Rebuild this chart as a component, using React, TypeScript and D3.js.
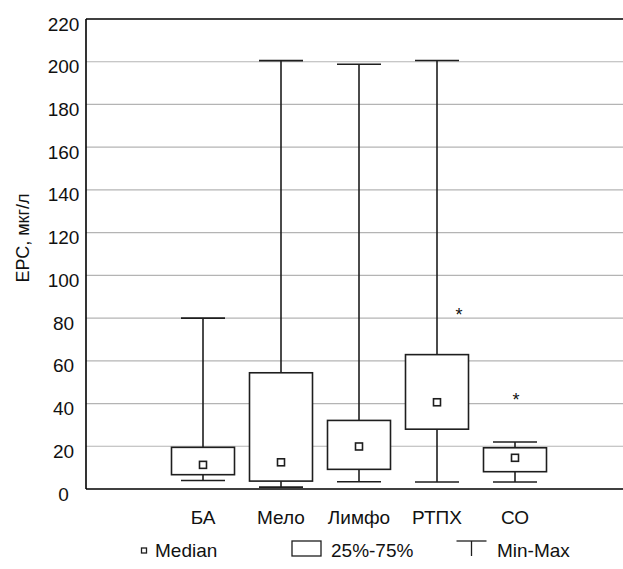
import React from "react";
import * as d3 from "d3";

// Group labels and five-number summaries (ЕРС, мкг/л)
const categories = ["БА", "Мело", "Лимфо", "РТПХ", "СО"];
const minValues = [4.0, 0.9, 3.4, 3.3, 3.3];
const q1Values = [6.7, 3.7, 9.2, 28.0, 8.1];
const medianValues = [11.3, 12.5, 19.9, 40.6, 14.6];
const q3Values = [19.5, 54.4, 32.1, 62.9, 19.3];
const maxValues = [80.0, 200.5, 198.8, 200.6, 22.0];

// Outliers drawn as asterisks
const outlierCategories = ["РТПХ", "СО"];
const outlierValues = [83.6, 43.6];

const yTicks = [0, 20, 40, 60, 80, 100, 120, 140, 160, 180, 200, 220];
const yLabel = "ЕРС, мкг/л";
const legendLabels = ["Median", "25%-75%", "Min-Max"];

const W = 623;
const H = 569;
const FONT = "'Liberation Sans', Arial, sans-serif";

export default function App() {
  const plotLeft = 86;
  const plotRight = W;
  const plotTop = 19;
  const plotBottom = 489;

  const y = d3.scaleLinear().domain([0, 220]).range([plotBottom, plotTop]);
  const x = d3.scalePoint<string>().domain(categories).range([203, 515]);

  const boxHalf = 31.5;
  const capHalf = 22;
  const med = 3.5;
  const stroke = "#1e1e1e";
  const outlierShift = [22, 1];
  const fs = 19;

  return (
    <svg
      width={W}
      height={H}
      style={{ position: "absolute", left: 0, top: 0, background: "#fff" }}
      fontFamily={FONT}
    >
      {/* horizontal grid */}
      {yTicks
        .filter((t) => t > 0 && t < 220)
        .map((t) => (
          <line
            key={"g" + t}
            x1={plotLeft}
            x2={plotRight}
            y1={y(t)}
            y2={y(t)}
            stroke="#b4b4b4"
            strokeWidth={1.2}
          />
        ))}

      {/* frame: top, left, bottom */}
      <line x1={plotLeft} x2={plotRight} y1={plotTop} y2={plotTop} stroke="#000" strokeWidth={1.6} />
      <line x1={plotLeft} x2={plotRight} y1={plotBottom} y2={plotBottom} stroke="#000" strokeWidth={1.6} />
      <line x1={plotLeft} x2={plotLeft} y1={plotTop} y2={plotBottom} stroke="#000" strokeWidth={1.6} />

      {/* y tick labels */}
      {yTicks.map((t) => (
        <text key={"t" + t} x={63.5} y={y(t) + 11.5} textAnchor="middle" fontSize={fs} fill="#111">
          {t}
        </text>
      ))}

      <text
        transform={`translate(29, 238) rotate(-90)`}
        textAnchor="middle"
        fontSize={18}
        fill="#111"
      >
        {yLabel}
      </text>

      {/* boxes */}
      {categories.map((c, i) => {
        const cx = x(c) as number;
        return (
          <g key={c} stroke={stroke} strokeWidth={1.6} fill="none">
            <line x1={cx} x2={cx} y1={y(maxValues[i])} y2={y(q3Values[i])} />
            <line x1={cx} x2={cx} y1={y(q1Values[i])} y2={y(minValues[i])} />
            <line x1={cx - capHalf} x2={cx + capHalf} y1={y(maxValues[i])} y2={y(maxValues[i])} />
            <line x1={cx - capHalf} x2={cx + capHalf} y1={y(minValues[i])} y2={y(minValues[i])} />
            <rect
              x={cx - boxHalf}
              y={y(q3Values[i])}
              width={boxHalf * 2}
              height={y(q1Values[i]) - y(q3Values[i])}
              fill="#fff"
            />
            <rect
              x={cx - med}
              y={y(medianValues[i]) - med}
              width={med * 2}
              height={med * 2}
              fill="#fff"
            />
          </g>
        );
      })}

      {/* outliers */}
      {outlierCategories.map((c, i) => (
        <text
          key={"o" + i}
          x={(x(c) as number) + outlierShift[i]}
          y={y(outlierValues[i]) + 10.5}
          textAnchor="middle"
          fontSize={18}
          fill="#111"
        >
          *
        </text>
      ))}

      {/* category labels */}
      {categories.map((c) => (
        <text key={"c" + c} x={x(c) as number} y={524} textAnchor="middle" fontSize={fs} fill="#111">
          {c}
        </text>
      ))}

      {/* legend */}
      <g stroke={stroke} strokeWidth={1.3} fill="#fff">
        <rect x={141.5} y={548} width={5} height={5} />
        <rect x={292} y={541} width={29} height={15} />
        <line x1={456.5} x2={486.5} y1={541} y2={541} />
        <line x1={471.5} x2={471.5} y1={541} y2={556} />
      </g>
      <text x={155} y={557} fontSize={fs} fill="#111">{legendLabels[0]}</text>
      <text x={331} y={557} fontSize={fs} fill="#111">{legendLabels[1]}</text>
      <text x={497} y={557} fontSize={fs} fill="#111">{legendLabels[2]}</text>
    </svg>
  );
}
